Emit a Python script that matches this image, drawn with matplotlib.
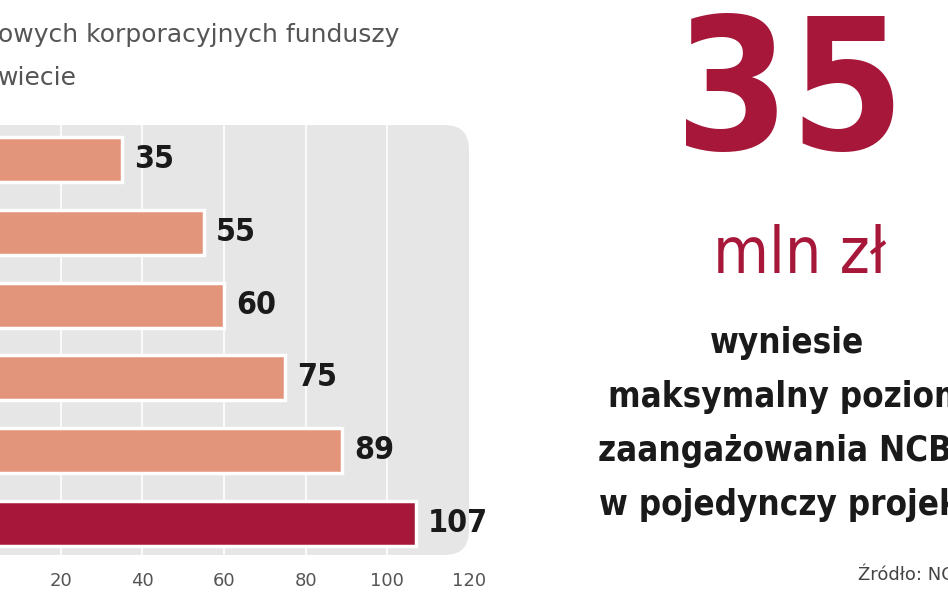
import matplotlib.pyplot as plt
from matplotlib.patches import FancyBboxPatch

# bar values (top to bottom)
values = [35, 55, 60, 75, 89, 107]
bar_colors = ['#E3957C'] * 5 + ['#A6173A']
tick_values = [20, 40, 60, 80, 100, 120]

W, H = 948, 593
fig = plt.figure(figsize=(9.48, 5.93), dpi=100)
fig.patch.set_facecolor('white')

def fx(px):
    return px / W

def fy(py):
    return 1 - py / H

# axes: x=0 sits at about -21 px, 118 at about 469 px
ax = fig.add_axes([fx(-21), fy(555), fx(469 + 21), (555 - 125) / H])
ax.set_xlim(0, 118)
ax.set_ylim(5.44, -0.48)
ax.patch.set_visible(False)
for s in ax.spines.values():
    s.set_visible(False)

panel = FancyBboxPatch((0, 0), 1, 1, boxstyle='round,pad=0,rounding_size=0.05',
                       transform=ax.transAxes, facecolor='#E6E6E6', edgecolor='none',
                       zorder=0, mutation_aspect=490 / 430)
ax.add_patch(panel)
for t in tick_values[:-1]:
    ax.axvline(t, color='white', lw=1.2, zorder=1)

ypos = list(range(len(values)))
ax.barh(ypos, values, height=0.62, color=bar_colors, edgecolor='white', linewidth=2.5, zorder=2)
for y, v in zip(ypos, values):
    ax.text(v + 3, y, str(v), va='center', ha='left', fontsize=23, fontweight='bold',
            fontstretch='condensed', color='#1a1a1a', zorder=3)

ax.set_yticks([])
ax.set_xticks(tick_values)
ax.set_xticklabels([str(t) for t in tick_values], fontsize=13, color='#555555')
ax.tick_params(axis='x', length=0, pad=12)
for lab in ax.get_xticklabels():
    lab.set_clip_on(False)

# title (cut off at the left edge in the original)
fig.text(fx(-2), fy(35), 'owych korporacyjnych funduszy', fontsize=18, color='#555555', va='center')
fig.text(fx(-2), fy(78), 'wiecie', fontsize=18, color='#555555', va='center')

red = '#A6173A'
fig.text(fx(790), fy(98), '35', fontsize=132, fontweight='bold', fontstretch='condensed',
         color=red, ha='center', va='center')
fig.text(fx(800), fy(255), 'mln zł', fontsize=46, fontstretch='condensed',
         color=red, ha='center', va='center')
lines = ['wyniesie', 'maksymalny poziom', 'zaangażowania NCBR', 'w pojedynczy projekt']
for i, line in enumerate(lines):
    fig.text(fx(787), fy(343 + i * 54), line, fontsize=25, fontweight='bold',
             fontstretch='condensed', color='#1a1a1a', ha='center', va='center')
fig.text(fx(858), fy(575), 'Źródło: NCBR', fontsize=13, color='#444444', va='center')

fig.savefig('out.png', dpi=100)
